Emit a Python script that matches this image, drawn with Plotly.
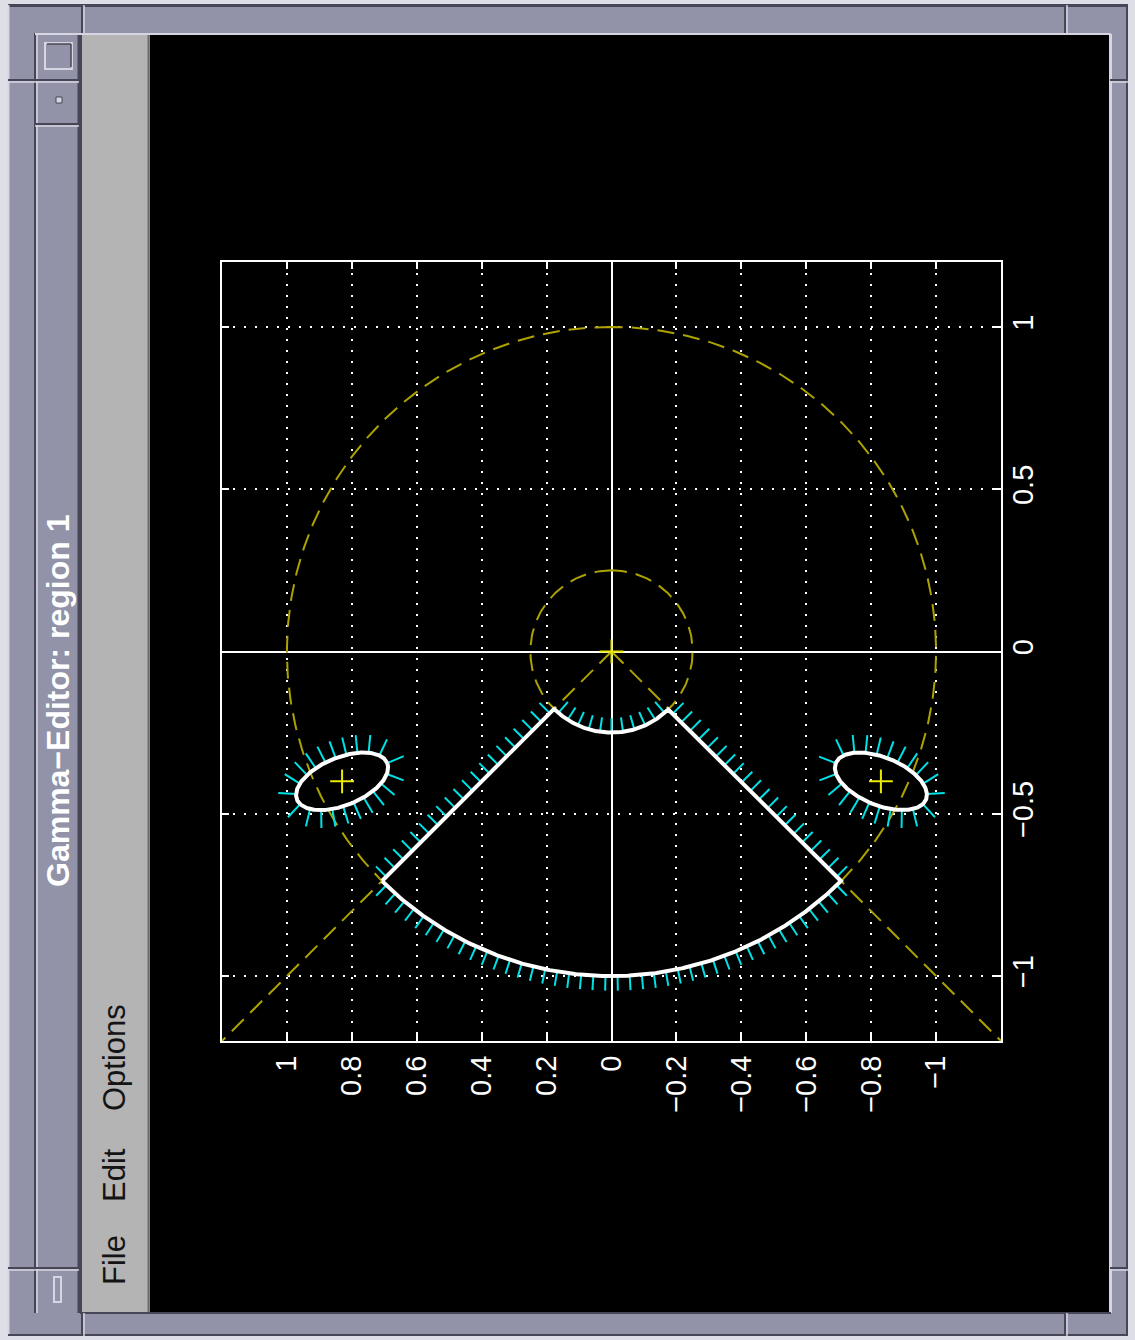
import numpy as np
import plotly.graph_objects as go

W, H = 1135, 1340

# ---------------- data (original chart coordinates: x horizontal, y vertical) -------------
y_ticks = [1, 0.8, 0.6, 0.4, 0.2, 0, -0.2, -0.4, -0.6, -0.8, -1]
y_tick_labels = ["1", "0.8", "0.6", "0.4", "0.2", "0", "\u22120.2", "\u22120.4", "\u22120.6", "\u22120.8", "\u22121"]
x_ticks = [1, 0.5, 0, -0.5, -1]
x_tick_labels = ["1", "0.5", "0", "\u22120.5", "\u22121"]
axis_range = [-1.2, 1.2]

# reference (yellow dashed) geometry
ref_circle_radii = [1.0, 0.25]
ray_angles_deg = [135, 225]
ray_length = 1.7

# region 1 : annular sector
sector_r_inner = 0.25
sector_r_outer = 1.0
sector_theta_start = 135
sector_theta_end = 225

# two ellipses
ellipse_cx = [-0.40, -0.40]
ellipse_cy = [0.83, -0.83]
ellipse_a = [0.15, 0.15]
ellipse_b = [0.074, 0.074]
ellipse_rot_deg = [-68, 68]

# centre markers
marker_x = [0.0, -0.40, -0.40]
marker_y = [0.0, 0.83, -0.83]

normal_spacing = 0.037
normal_len_sector = 0.045
normal_len_ellipse = 0.055

# ---------------- colours ----------------
YEL_DASH = "rgb(172,162,0)"
YEL_PLUS = "rgb(235,235,0)"
CYAN = "rgb(0,225,230)"
WHITE = "white"
DASH = "17px,9px"


def rot(xo, yo):
    """chart is shown rotated: screen-horizontal = original y, screen-vertical = original x"""
    return np.asarray(yo), np.asarray(xo)


def normals_along(pts, spacing, length, offset=0.5):
    pts = np.asarray(pts)
    d = np.diff(pts, axis=0)
    seg = np.hypot(d[:, 0], d[:, 1])
    cum = np.concatenate([[0], np.cumsum(seg)])
    total = cum[-1]
    n = max(int(round(total / spacing)), 1)
    s = (np.arange(n) + offset) * total / n
    xs = np.interp(s, cum, pts[:, 0])
    ys = np.interp(s, cum, pts[:, 1])
    tx = np.gradient(pts[:, 0])
    ty = np.gradient(pts[:, 1])
    txs = np.interp(s, cum, tx)
    tys = np.interp(s, cum, ty)
    nn = np.hypot(txs, tys)
    nx, ny = tys / nn, -txs / nn
    X, Y = [], []
    for i in range(n):
        X += [xs[i], xs[i] + length * nx[i], None]
        Y += [ys[i], ys[i] + length * ny[i], None]
    return X, Y


fig = go.Figure()

# yellow dashed reference circles and rays
t = np.linspace(0, 2 * np.pi, 400)
for r in ref_circle_radii:
    sx, sy = rot(r * np.cos(t), r * np.sin(t))
    fig.add_trace(go.Scatter(x=sx, y=sy, mode="lines",
                             line=dict(color=YEL_DASH, width=2, dash=DASH), hoverinfo="skip"))
for a in ray_angles_deg:
    ar = np.deg2rad(a)
    sx, sy = rot([0, ray_length * np.cos(ar)], [0, ray_length * np.sin(ar)])
    fig.add_trace(go.Scatter(x=sx, y=sy, mode="lines",
                             line=dict(color=YEL_DASH, width=2, dash=DASH), hoverinfo="skip"))

# sector boundary pieces (counter-clockwise orientation)
th0, th1 = np.deg2rad(sector_theta_start), np.deg2rad(sector_theta_end)
tt = np.linspace(th0, th1, 300)
outer = np.c_[sector_r_outer * np.cos(tt), sector_r_outer * np.sin(tt)]
rr = np.linspace(sector_r_outer, sector_r_inner, 100)
edge2 = np.c_[rr * np.cos(th1), rr * np.sin(th1)]
inner = np.c_[sector_r_inner * np.cos(tt[::-1]), sector_r_inner * np.sin(tt[::-1])]
edge1 = np.c_[rr[::-1] * np.cos(th0), rr[::-1] * np.sin(th0)]
sector = np.vstack([outer, edge2, inner, edge1])

# ellipses
ellipses = []
te = np.linspace(0, 2 * np.pi, 400)
for cx, cy, a, b, ang in zip(ellipse_cx, ellipse_cy, ellipse_a, ellipse_b, ellipse_rot_deg):
    ph = np.deg2rad(ang)
    ex = cx + a * np.cos(te) * np.cos(ph) - b * np.sin(te) * np.sin(ph)
    ey = cy + a * np.cos(te) * np.sin(ph) + b * np.sin(te) * np.cos(ph)
    ellipses.append(np.c_[ex, ey])

# cyan outward normals
NX, NY = [], []
for piece in [outer, edge2, inner, edge1]:
    X, Y = normals_along(piece, normal_spacing, normal_len_sector)
    NX += X
    NY += Y
for e in ellipses:
    X, Y = normals_along(e, normal_spacing * 0.95, normal_len_ellipse, offset=0.0)
    NX += X
    NY += Y
fig.add_trace(go.Scatter(x=NY, y=NX, mode="lines", line=dict(color=CYAN, width=2), hoverinfo="skip"))

# white boundaries
bx, by = rot(sector[:, 0], sector[:, 1])
fig.add_trace(go.Scatter(x=np.append(bx, bx[0]), y=np.append(by, by[0]), mode="lines",
                         line=dict(color=WHITE, width=4), hoverinfo="skip"))
for e in ellipses:
    bx, by = rot(e[:, 0], e[:, 1])
    fig.add_trace(go.Scatter(x=bx, y=by, mode="lines", line=dict(color=WHITE, width=4), hoverinfo="skip"))

# yellow plus markers
mx, my = rot(marker_x, marker_y)
fig.add_trace(go.Scatter(x=mx, y=my, mode="markers",
                         marker=dict(symbol="cross-thin-open", size=17, color=YEL_PLUS,
                                     line=dict(color=YEL_PLUS, width=2)),
                         hoverinfo="skip"))

# ---------------- window chrome ----------------
FRAME = "rgb(146,146,168)"
DARK = "rgb(70,70,86)"
LIGHT = "rgb(214,214,226)"
MENU = "rgb(180,180,180)"


def PX(x):
    return x / W


def PY(y):
    return 1 - y / H


shapes = []


def rect(x0, y0, x1, y1, fill, lc=None, lw=0):
    shapes.append(dict(type="rect", xref="paper", yref="paper", x0=PX(x0), x1=PX(x1), y0=PY(y1), y1=PY(y0),
                       fillcolor=fill, line=dict(width=lw, color=lc or fill), layer="below"))


def line(x0, y0, x1, y1, color, w=2):
    shapes.append(dict(type="line", xref="paper", yref="paper", x0=PX(x0), x1=PX(x1), y0=PY(y0), y1=PY(y1),
                       line=dict(color=color, width=w), layer="below"))


rect(8, 4, 1128, 1336, FRAME)
line(8, 5.5, 1128, 5.5, DARK, 3)
line(8.5, 5, 8.5, 1336, LIGHT, 2)
line(1127, 5, 1127, 1336, DARK, 2)
line(8, 1335, 1128, 1335, DARK, 2)
# title bar column
line(35, 33, 35, 1313, DARK, 2)
line(37, 33, 37, 1313, LIGHT, 1.5)
line(79, 33, 79, 1313, DARK, 3)
# content area
rect(82, 35, 148, 1312, MENU)
line(148.5, 35, 148.5, 1312, "rgb(110,110,110)", 2)
rect(150, 35, 1109, 1312, "black")
line(35, 34, 1111, 34, LIGHT, 2)
line(1110.5, 34, 1110.5, 1313, LIGHT, 3)
line(80, 1313, 1111, 1313, DARK, 2)
line(81, 35, 81, 1313, DARK, 2)
# frame corner separators
for yy in (80, 1268):
    line(8, yy, 35, yy, DARK, 2)
    line(8, yy + 2, 35, yy + 2, LIGHT, 1.5)
    line(1110, yy, 1128, yy, DARK, 2)
    line(1110, yy + 2, 1128, yy + 2, LIGHT, 1.5)
for xx in (82, 1065):
    line(xx, 5, xx, 33, DARK, 2)
    line(xx + 2, 5, xx + 2, 33, LIGHT, 1.5)
    line(xx, 1313, xx, 1336, DARK, 2)
    line(xx + 2, 1313, xx + 2, 1336, LIGHT, 1.5)
# buttons
line(35, 80, 79, 80, DARK, 2)
line(35, 82, 79, 82, LIGHT, 1.5)
line(35, 124, 79, 124, DARK, 2)
line(35, 126, 79, 126, LIGHT, 1.5)
line(35, 1268, 79, 1268, DARK, 2)
line(35, 1270, 79, 1270, LIGHT, 1.5)
rect(45, 43, 72, 69, "rgba(0,0,0,0)", LIGHT, 2)
line(47, 44, 71, 44, DARK, 1.5)
line(71, 44, 71, 67, DARK, 1.5)
rect(56, 97, 62, 103, LIGHT, DARK, 1)
rect(54, 1277, 61, 1302, "rgba(0,0,0,0)", LIGHT, 2)

annotations = [
    dict(text="Gamma\u2212Editor: region 1", x=PX(58), y=PY(701), xref="paper", yref="paper",
         showarrow=False, textangle=-90, xanchor="center", yanchor="middle",
         font=dict(family="Liberation Sans, Arial", size=32, color="white", weight="bold")),
]
for txt, yc in [("File", 1260), ("Edit", 1175), ("Options", 1058)]:
    annotations.append(dict(text=txt, x=PX(114), y=PY(yc), xref="paper", yref="paper", showarrow=False,
                            textangle=-90, xanchor="center", yanchor="middle",
                            font=dict(family="Liberation Sans, Arial", size=31, color="rgb(20,20,20)")))

tickfont = dict(family="Liberation Sans, Arial", size=29, color="white")
common = dict(showline=True, linecolor="white", linewidth=2, mirror="ticks", ticks="inside", ticklen=7,
              tickcolor="white", tickwidth=1.5, showgrid=True, gridcolor="white", gridwidth=2,
              griddash="2px,9px", zeroline=True, zerolinecolor="white", zerolinewidth=2,
              tickfont=tickfont, tickangle=-90, fixedrange=True)

fig.update_layout(
    width=W, height=H, autosize=False,
    margin=dict(l=0, r=0, t=0, b=0, pad=0),
    paper_bgcolor="rgb(222,222,230)", plot_bgcolor="black",
    showlegend=False,
    shapes=shapes, annotations=annotations,
    xaxis=dict(domain=[222 / W, 1001 / W], range=axis_range[::-1], tickvals=y_ticks, ticktext=y_tick_labels,
               side="bottom", ticklabelstandoff=1, **common),
    yaxis=dict(domain=[1 - 1041 / H, 1 - 262 / H], range=axis_range, tickvals=x_ticks, ticktext=x_tick_labels,
               side="right", ticklabelstandoff=-5, **common),
)

fig.write_html("out.html", config={"displayModeBar": False},
               post_script="document.body.style.margin='0';document.body.style.overflow='hidden';")
